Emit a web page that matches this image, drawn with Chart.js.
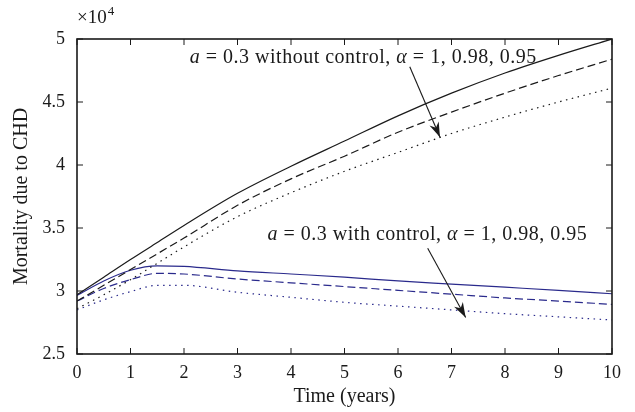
<!DOCTYPE html>
<html>
<head>
<meta charset="utf-8">
<script src="https://cdn.jsdelivr.net/npm/chart.js@4/dist/chart.umd.min.js"></script>
<style>
  body { margin: 0; background: #fff; }
  #caja { width: 635px; height: 412px; }
</style>
</head>
<body>
<div id="caja"><canvas id="grafico"></canvas></div>
<script>
// --------------- Dados (unidades de 10^4) ------------------
const tempo = [0, 0.5, 1, 1.5, 2, 3, 4, 5, 6, 7, 8, 9, 10];

const semControle1 = [2.97, 3.11, 3.25, 3.385, 3.52, 3.775, 3.99, 4.19, 4.39, 4.57, 4.73, 4.87, 5.0];
const semControle098 = [2.92, 3.045, 3.17, 3.295, 3.42, 3.68, 3.89, 4.07, 4.26, 4.42, 4.57, 4.71, 4.84];
const semControle095 = [2.86, 2.97, 3.09, 3.22, 3.35, 3.59, 3.78, 3.95, 4.1, 4.25, 4.38, 4.5, 4.61];

const comControle1 = [2.965, 3.08, 3.165, 3.2, 3.195, 3.16, 3.135, 3.11, 3.08, 3.055, 3.03, 3.005, 2.978];
const comControle098 = [2.92, 3.02, 3.09, 3.14, 3.135, 3.095, 3.065, 3.035, 3.005, 2.975, 2.945, 2.92, 2.894];
const comControle095 = [2.85, 2.93, 2.995, 3.045, 3.045, 2.99, 2.95, 2.91, 2.88, 2.85, 2.82, 2.795, 2.77];

const ticksX = [0, 1, 2, 3, 4, 5, 6, 7, 8, 9, 10];
const ticksY = [2.5, 3, 3.5, 4, 4.5, 5];

const textoSem = [["a", true], [" = 0.3 without control, ", false], ["α", true], [" = 1, 0.98, 0.95", false]];
const textoCom = [["a", true], [" = 0.3 with control, ", false], ["α", true], [" = 1, 0.98, 0.95", false]];

// posicoes das anotacoes em coordenadas dos dados
const notaSem = { x: 5.35, y: 4.85 };
const notaCom = { x: 6.55, y: 3.45 };
const setaSem = { de: [6.22, 4.78], para: [6.785, 4.22] };
const setaCom = { de: [6.555, 3.34], para: [7.265, 2.79] };

const FONTE = "'Liberation Serif', 'DejaVu Serif', serif";
const PRETO = "#1a1a1a";
const AZUL = "#2a2a8c";

function pares(ys) {
  return tempo.map((t, i) => ({ x: t, y: ys[i] }));
}

function serie(rotulo, ys, cor, tracejado) {
  return {
    label: rotulo,
    data: pares(ys),
    borderColor: cor,
    borderWidth: 1.2,
    borderDash: tracejado,
    fill: false,
    pointRadius: 0,
    cubicInterpolationMode: "monotone",
  };
}

function textoMisto(ctx, partes, cx, cy) {
  ctx.letterSpacing = "0.5px";
  let largura = 0;
  partes.forEach(([t, it]) => {
    ctx.font = (it ? "italic " : "") + "20px " + FONTE;
    largura += ctx.measureText(t).width;
  });
  let x = cx - largura / 2;
  ctx.textBaseline = "middle";
  ctx.textAlign = "left";
  partes.forEach(([t, it]) => {
    ctx.font = (it ? "italic " : "") + "20px " + FONTE;
    ctx.fillText(t, x, cy);
    x += ctx.measureText(t).width;
  });
  ctx.letterSpacing = "0px";
}

function seta(ctx, sx, sy, de, para) {
  const x1 = sx.getPixelForValue(de[0]);
  const y1 = sy.getPixelForValue(de[1]);
  const x2 = sx.getPixelForValue(para[0]);
  const y2 = sy.getPixelForValue(para[1]);
  const ang = Math.atan2(y2 - y1, x2 - x1);
  ctx.strokeStyle = PRETO;
  ctx.fillStyle = PRETO;
  ctx.lineWidth = 1.1;
  ctx.beginPath();
  ctx.moveTo(x1, y1);
  ctx.lineTo(x2, y2);
  ctx.stroke();
  const L = 15, W = 5;
  ctx.beginPath();
  ctx.moveTo(x2, y2);
  ctx.lineTo(x2 - L * Math.cos(ang) + W * Math.sin(ang), y2 - L * Math.sin(ang) - W * Math.cos(ang));
  ctx.lineTo(x2 - L * 0.7 * Math.cos(ang), y2 - L * 0.7 * Math.sin(ang));
  ctx.lineTo(x2 - L * Math.cos(ang) - W * Math.sin(ang), y2 - L * Math.sin(ang) + W * Math.cos(ang));
  ctx.closePath();
  ctx.fill();
}

// moldura, marcas internas, anotacoes
const extras = {
  id: "extras",
  afterDatasetsDraw(chart) {
    const { ctx, chartArea: a, scales } = chart;
    const sx = scales.x, sy = scales.y;
    ctx.save();
    ctx.strokeStyle = PRETO;
    ctx.lineWidth = 1.6;
    ctx.strokeRect(a.left, a.top, a.right - a.left, a.bottom - a.top);
    ctx.lineWidth = 1;
    ctx.beginPath();
    ticksX.forEach((v) => {
      const x = sx.getPixelForValue(v);
      ctx.moveTo(x, a.bottom); ctx.lineTo(x, a.bottom - 6);
      ctx.moveTo(x, a.top); ctx.lineTo(x, a.top + 6);
    });
    ticksY.forEach((v) => {
      const y = sy.getPixelForValue(v);
      ctx.moveTo(a.left, y); ctx.lineTo(a.left + 6, y);
      ctx.moveTo(a.right, y); ctx.lineTo(a.right - 6, y);
    });
    ctx.stroke();

    ctx.fillStyle = PRETO;
    textoMisto(ctx, textoSem, sx.getPixelForValue(notaSem.x), sy.getPixelForValue(notaSem.y));
    textoMisto(ctx, textoCom, sx.getPixelForValue(notaCom.x), sy.getPixelForValue(notaCom.y));
    seta(ctx, sx, sy, setaSem.de, setaSem.para);
    seta(ctx, sx, sy, setaCom.de, setaCom.para);

    // multiplicador do eixo y
    ctx.fillStyle = PRETO;
    ctx.textAlign = "left";
    ctx.textBaseline = "alphabetic";
    ctx.font = "19px " + FONTE;
    ctx.fillText("×10", a.left, 23);
    const w = ctx.measureText("×10").width;
    ctx.font = "13px " + FONTE;
    ctx.fillText("4", a.left + w + 1, 15);
    ctx.restore();
  },
};

const ctx = document.getElementById("grafico").getContext("2d");

new Chart(ctx, {
  type: "line",
  data: {
    datasets: [
      serie("sem controle, α = 1", semControle1, PRETO, []),
      serie("sem controle, α = 0.98", semControle098, PRETO, [8, 4]),
      serie("sem controle, α = 0.95", semControle095, PRETO, [1.5, 4.5]),
      serie("com controle, α = 1", comControle1, AZUL, []),
      serie("com controle, α = 0.98", comControle098, AZUL, [8, 4]),
      serie("com controle, α = 0.95", comControle095, AZUL, [1.5, 4.5]),
    ],
  },
  options: {
    responsive: true,
    maintainAspectRatio: false,
    animation: false,
    layout: { padding: { top: 39, right: 23, left: 0, bottom: 0 } },
    plugins: {
      legend: { display: false },
      tooltip: { enabled: false },
    },
    scales: {
      x: {
        type: "linear",
        min: 0,
        max: 10,
        afterFit: (s) => { s.height = 58; },
        afterBuildTicks: (s) => { s.ticks = ticksX.map((v) => ({ value: v })); },
        grid: { display: false, drawTicks: false },
        border: { display: false },
        ticks: {
          color: PRETO,
          padding: 8,
          maxRotation: 0,
          font: { family: FONTE, size: 18 },
          callback: (v) => String(v),
        },
        title: {
          display: true,
          text: "Time (years)",
          color: PRETO,
          padding: { top: 4, bottom: 3 },
          font: { family: FONTE, size: 20 },
        },
      },
      y: {
        min: 2.5,
        max: 5,
        afterFit: (s) => { s.width = 77; },
        afterBuildTicks: (s) => { s.ticks = ticksY.map((v) => ({ value: v })); },
        grid: { display: false, drawTicks: false },
        border: { display: false },
        ticks: {
          color: PRETO,
          padding: 12,
          font: { family: FONTE, size: 18 },
          callback: (v) => String(v),
        },
        title: {
          display: true,
          text: "Mortality due to CHD",
          color: PRETO,
          padding: { top: 10, bottom: 4 },
          font: { family: FONTE, size: 20 },
        },
      },
    },
  },
  plugins: [extras],
});
</script>
</body>
</html>
